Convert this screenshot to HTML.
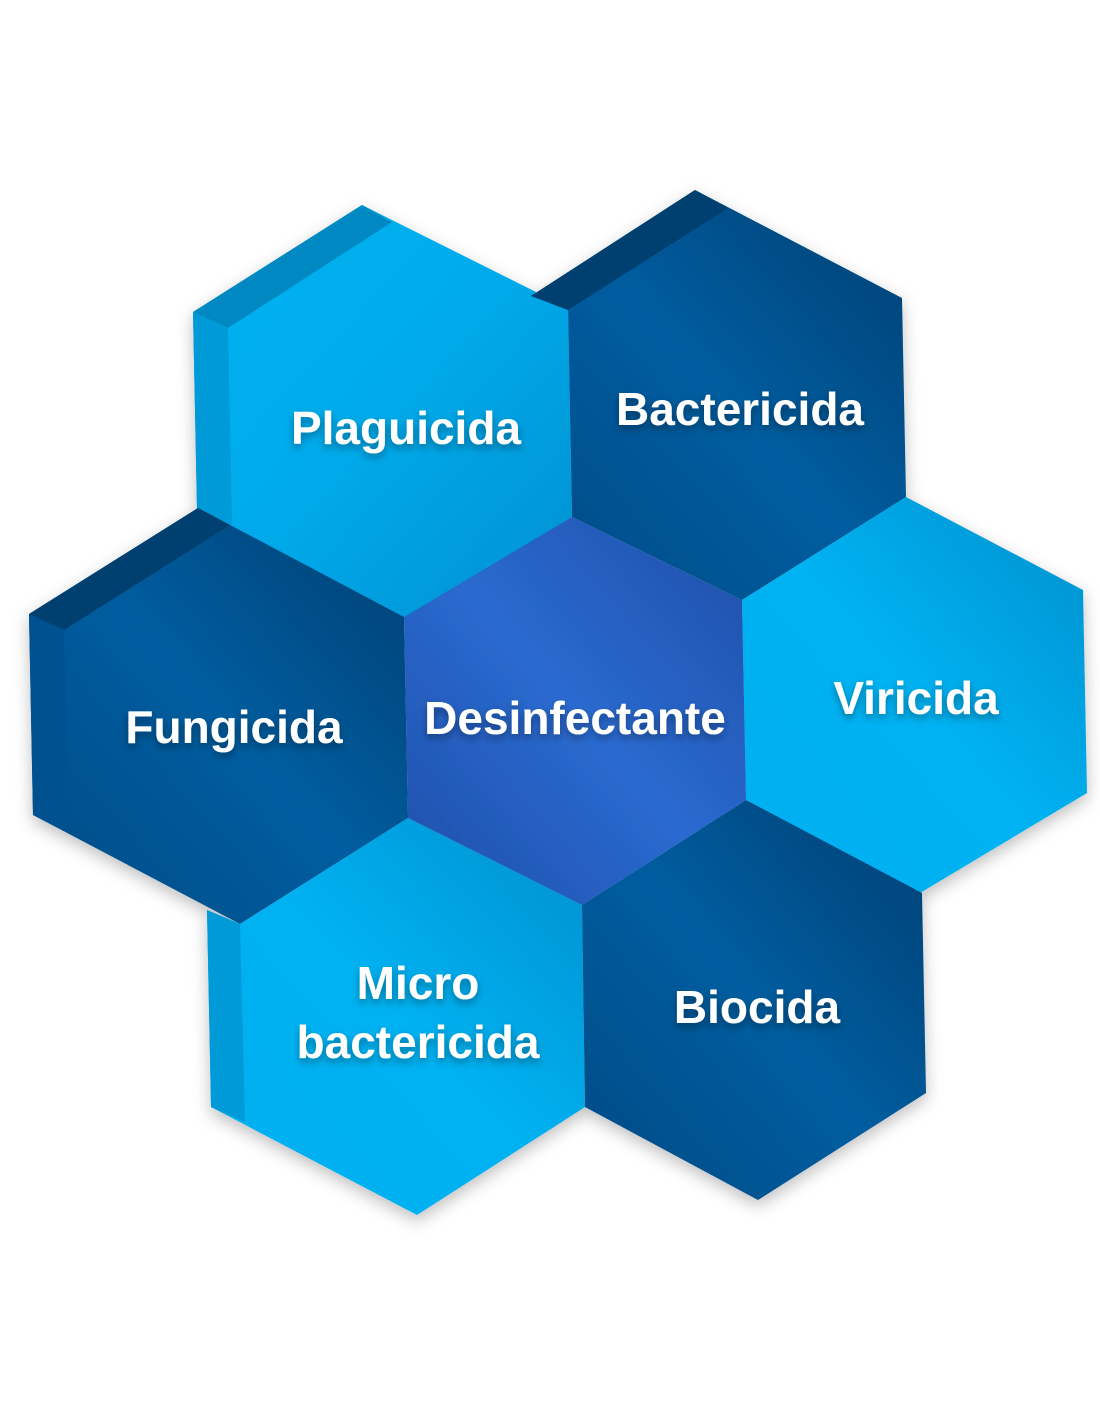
<!DOCTYPE html>
<html><head><meta charset="utf-8"><style>
html,body{margin:0;padding:0;background:#fff;width:1100px;height:1422px;overflow:hidden}
text{font-family:"Liberation Sans",sans-serif;font-weight:bold;fill:#fff;font-size:46px;text-anchor:middle}
</style></head><body>
<svg width="1100" height="1422" viewBox="0 0 1100 1422">
<defs>
<linearGradient id="lb" x1="0" y1="0" x2="1" y2="1"><stop offset="0" stop-color="#00b3f3"/><stop offset="0.5" stop-color="#00aaea"/><stop offset="1" stop-color="#0090d0"/></linearGradient>
<linearGradient id="lb2" x1="1" y1="0" x2="0" y2="1"><stop offset="0" stop-color="#008fcc"/><stop offset="0.5" stop-color="#00b2f2"/><stop offset="1" stop-color="#00aff0"/></linearGradient>
<linearGradient id="db" x1="1" y1="0" x2="0" y2="1"><stop offset="0" stop-color="#003f72"/><stop offset="0.5" stop-color="#005d9f"/><stop offset="1" stop-color="#004a85"/></linearGradient>
<linearGradient id="cb" x1="1" y1="0" x2="0" y2="1"><stop offset="0" stop-color="#1f4fa8"/><stop offset="0.5" stop-color="#2a6ad0"/><stop offset="1" stop-color="#1e4ea8"/></linearGradient>
<filter id="sh" x="-20%" y="-20%" width="140%" height="140%"><feDropShadow dx="0" dy="6" stdDeviation="8" flood-color="#000" flood-opacity="0.25"/></filter>
<filter id="ts"><feDropShadow dx="0" dy="4" stdDeviation="4" flood-color="#000" flood-opacity="0.35"/></filter>
</defs>
<g filter="url(#sh)">
<!-- Plaguicida -->
<polygon points="362,205 568,308 572,517 405,618 197,510 193,312" fill="url(#lb)"/>
<polygon points="193,312 362,205 392,222 228,328" fill="#0088c2"/>
<polygon points="193,312 228,328 232,525 197,510" fill="#009ad8"/>
<!-- Bactericida -->
<polygon points="695,190 902,298 906,497 742,600 572,517 568,308 531,296" fill="url(#db)"/>
<polygon points="531,296 695,190 728,208 568,310" fill="#003f70"/>
<!-- Fungicida -->
<polygon points="198,508 404,617 408,818 240,924 33,815 29,614" fill="url(#db)"/>
<polygon points="29,614 198,508 230,525 64,630" fill="#003f70"/>
<polygon points="29,614 64,630 68,832 33,815" fill="#00518f"/>
<!-- Viricida -->
<polygon points="906,497 1083,590 1087,793 920,893 746,800 742,600" fill="url(#lb2)"/>
<!-- Micro -->
<polygon points="408,818 582,905 585,1107 417,1215 211,1107 207,910 240,924" fill="url(#lb2)"/>
<polygon points="207,910 240,924 245,1122 211,1107" fill="#009ad8"/>
<!-- Biocida -->
<polygon points="746,800 922,893 926,1093 758,1200 585,1107 582,905" fill="url(#db)"/>
<!-- Center -->
<polygon points="572,517 742,600 746,800 582,905 408,818 404,617" fill="url(#cb)"/>
</g>
<g filter="url(#ts)">
<text x="406" y="444">Plaguicida</text>
<text x="740" y="425">Bactericida</text>
<text x="234" y="743">Fungicida</text>
<text x="575" y="734">Desinfectante</text>
<text x="916" y="714">Viricida</text>
<text x="418" y="999">Micro</text>
<text x="418" y="1058">bactericida</text>
<text x="757" y="1023">Biocida</text>
</g>
</svg>
</body></html>
